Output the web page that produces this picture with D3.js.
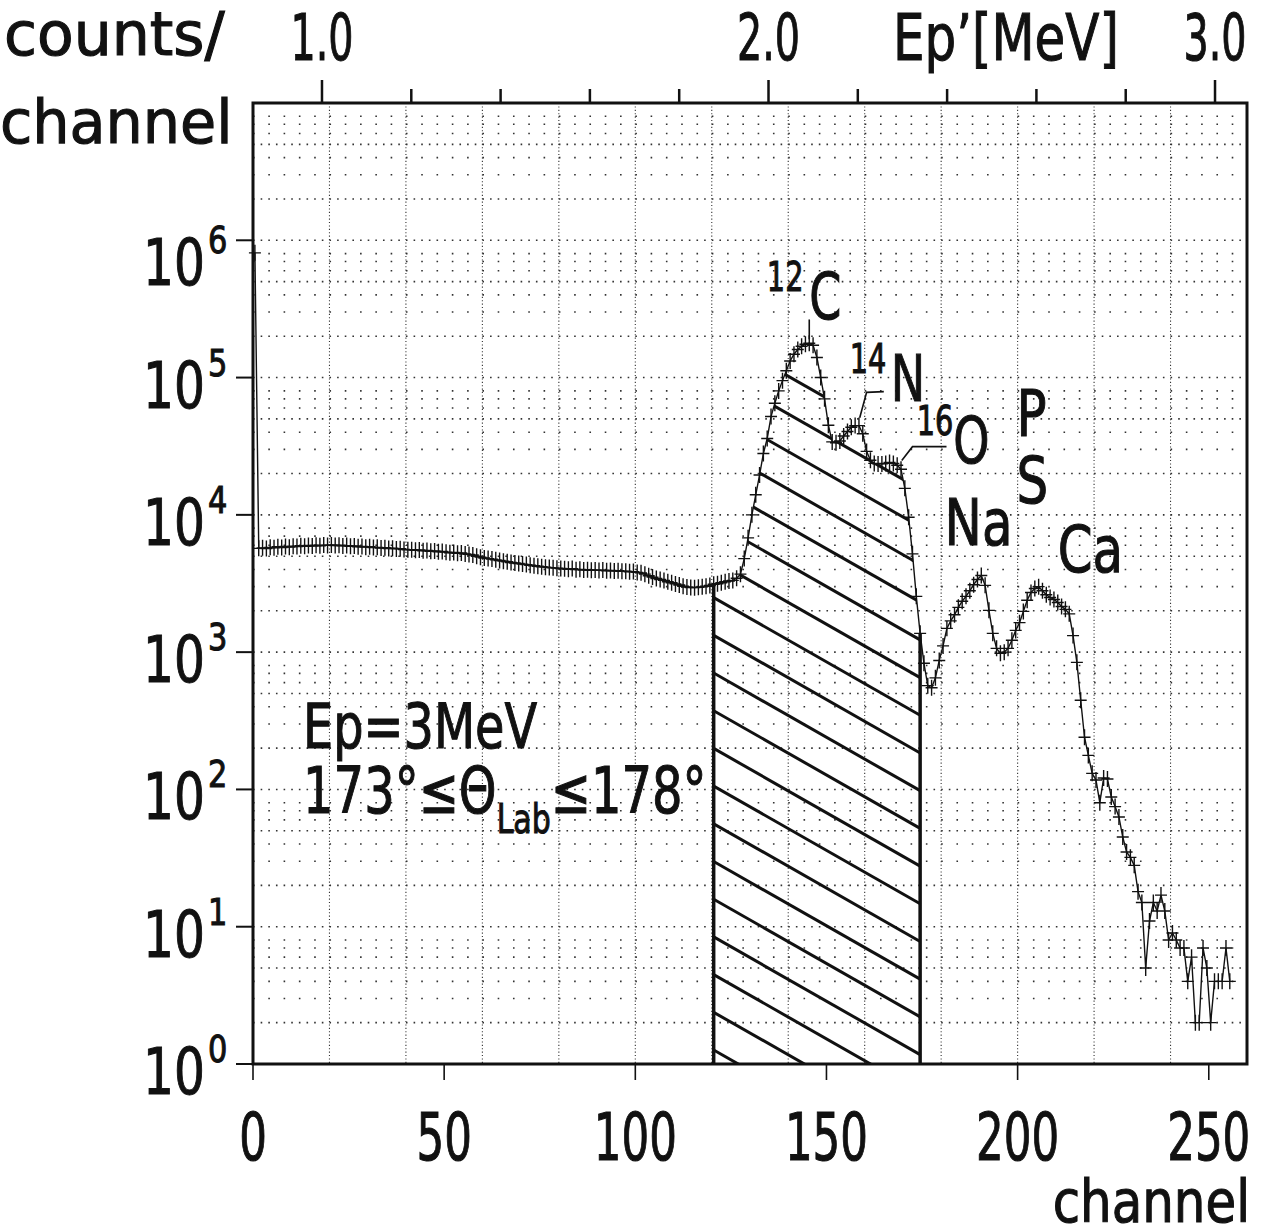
<!DOCTYPE html>
<html>
<head>
<meta charset="utf-8">
<script src="https://cdn.jsdelivr.net/npm/d3@7"></script>
<style>
  body { margin: 0; background: #fff; }
  svg text { font-family: "DejaVu Sans", sans-serif; fill: #111; stroke: #111; stroke-width: 1.1; }
</style>
</head>
<body>
<svg id="chart" width="1267" height="1232"></svg>
<script>
// counts per channel (channel 0 .. 255)
const spikeCounts = [810000];
const flatCounts = [
  5700, 5750, 5680, 5800, 5760, 5850, 5790, 5880, 5820, 5900,
  5870, 5950, 5900, 5980, 5930, 6000, 5960, 6020, 5990, 6030,
  5980, 6010, 5940, 5970, 5900, 5930, 5860, 5880, 5820, 5850,
  5780, 5800, 5740, 5760, 5690, 5720, 5650, 5670, 5600, 5560,
  5580, 5520, 5540, 5480, 5500, 5430, 5450, 5390, 5410, 5350,
  5300, 5320, 5250, 5270, 5190, 5150, 5100, 5000, 4920, 4850,
  4800, 4760, 4700, 4650, 4600, 4560, 4500, 4460, 4420, 4380,
  4340, 4300, 4260, 4220, 4190, 4160, 4130, 4110, 4090, 4070,
  4050, 4020, 4060, 3990, 4010, 3960, 3980, 3950, 3970, 3940,
  3960, 3920, 3940, 3900, 3920, 3880, 3890, 3850, 3860, 3810,
  3780, 3700, 3600, 3520, 3440, 3380, 3330, 3260, 3200, 3140,
  3080, 3020, 2980, 2960, 2950, 2970, 2990, 3020, 3060
];
const cnoCounts = [
  3120, 3150, 3200, 3260, 3300, 3330, 3450, 3700, 4800, 6800,
  10000, 14000, 19500, 28000, 36000, 52000, 65000, 80000, 95000, 112000,
  132000, 148000, 160000, 169000, 175000, 178000, 172000, 140000, 100000, 70000,
  45000, 34000, 33500, 34500, 37500, 40500, 43500, 44700, 44700, 39000,
  29000, 25000, 23700, 23500, 23500, 23700, 24100, 23700, 23000, 21500,
  15600, 9600, 5200, 2550, 1370, 830, 570, 550, 650, 870,
  1110
];
const naCaCounts = [
  1490, 1690, 1870, 2120, 2350, 2550, 2800, 3100, 3380, 3620,
  3065, 2015, 1370, 1066, 980, 1000, 1066, 1220, 1440, 1640,
  1980, 2390, 2720, 2910, 3000, 2800, 2620, 2500, 2420, 2300,
  2150, 2050, 1900, 1320, 843, 446, 240, 177
];
const tailCounts = [
  131, 117, 80, 121, 119, 88, 75, 63, 45, 35,
  32, 28, 18, 15, 5, 11, 15, 13, 17, 13,
  8, 9, 8, 7, 7, 4, 6, 2, 2, 7,
  5, 2, 4, 4, 4, 7, 4
];
const spectrum = [].concat(spikeCounts, flatCounts, cnoCounts, naCaCounts, tailCounts);

// hatched sum window (channels)
const sumWindow = [120, 174];

// axes
const channelTicks = [0, 50, 100, 150, 200, 250];
const decadeTicks = [1, 10, 100, 1000, 10000, 100000, 1000000];
const energyMinorTicks = [1.0, 1.2, 1.4, 1.6, 1.8, 2.0, 2.2, 2.4, 2.6, 2.8, 3.0];
const energyLabelTicks = [1.0, 2.0, 3.0];
// Ep' = e0 + slope * channel
const e0 = 0.8455, eSlope = 0.008562;

const svg = d3.select("#chart");
const x = d3.scaleLinear().domain([0, 260]).range([253, 1247]);
const y = d3.scaleLog().domain([1, 1e7]).range([1064, 103]);
const ep = d3.scaleLinear().domain([e0, e0 + eSlope * 260]).range([253, 1247]);

// narrow lettering: text squeezed horizontally
function txt(px, py, size, sx, anchor) {
  return svg.append("g")
    .attr("transform", `translate(${px},${py}) scale(${sx},1)`)
    .append("text").attr("font-size", size).attr("text-anchor", anchor || "start");
}

// ---- dotted grid
const grid = svg.append("g");
d3.range(20, 260, 20).forEach(c => {
  grid.append("line")
    .attr("x1", x(c)).attr("x2", x(c))
    .attr("y1", y(1e7)).attr("y2", y(1))
    .attr("stroke", "#333").attr("stroke-width", 1.1)
    .attr("stroke-dasharray", "1.1,2.3");
});
for (let d = 0; d < 7; d++) {
  [1, 2, 3, 4, 5, 6, 7, 8].forEach(k => {
    const v = k * Math.pow(10, d);
    if (v === 1) return;
    const dense = (k === 1 || k === 2 || k === 5);
    const step = x(dense ? 2 : 4) - x(0);
    grid.append("line")
      .attr("x1", x(0)).attr("x2", x(260))
      .attr("y1", y(v)).attr("y2", y(v))
      .attr("stroke", "#333").attr("stroke-width", 1.6)
      .attr("stroke-dasharray", "1.6," + (step - 1.6));
  });
}

// ---- hatched window
const win = d3.range(sumWindow[0], sumWindow[1] + 1).map(c => [x(c + 0.5), y(spectrum[c])]);
const xL = win[0][0], xR = win[win.length - 1][0];
const poly = [[xL, y(1)]].concat(win, [[xR, y(1)]]);
svg.append("clipPath").attr("id", "hclip")
  .append("path").attr("d", d3.line()(poly) + "Z");
const hatch = svg.append("g").attr("clip-path", "url(#hclip)");
const hSlope = 0.57, hGap = 37.7, hBase = y(1) - 14;
for (let k = -2; k < 20; k++) {
  const y0 = hBase - k * hGap;
  hatch.append("line")
    .attr("x1", xL).attr("y1", y0)
    .attr("x2", xR).attr("y2", y0 + hSlope * (xR - xL))
    .attr("stroke", "#111").attr("stroke-width", 3);
}
[win[0], win[win.length - 1]].forEach(p => {
  svg.append("line")
    .attr("x1", p[0]).attr("x2", p[0])
    .attr("y1", y(1)).attr("y2", p[1])
    .attr("stroke", "#111").attr("stroke-width", 3.5);
});

// ---- frame
svg.append("rect")
  .attr("x", x(0)).attr("y", y(1e7))
  .attr("width", x(260) - x(0)).attr("height", y(1) - y(1e7))
  .attr("fill", "none").attr("stroke", "#111").attr("stroke-width", 3);

// ---- spectrum line and crosses
const pts = spectrum.map((v, i) => [x(i + 0.5), y(v)]);
svg.append("path")
  .attr("d", d3.line()(pts))
  .attr("fill", "none").attr("stroke", "#111").attr("stroke-width", 1.4);
svg.append("path")
  .attr("d", pts.map(p => `M${p[0] - 6},${p[1]}h12M${p[0]},${p[1] - 8}v16`).join(""))
  .attr("fill", "none").attr("stroke", "#111").attr("stroke-width", 1.4);

// ---- bottom axis
channelTicks.forEach(c => {
  svg.append("line").attr("x1", x(c)).attr("x2", x(c))
    .attr("y1", y(1)).attr("y2", y(1) + 16)
    .attr("stroke", "#111").attr("stroke-width", 1.6);
  txt(x(c), 1160, 66, 0.66, "middle").text(c);
});
txt(1250, 1222, 58, 0.86, "end").text("channel");

// ---- left axis
decadeTicks.forEach(v => {
  const yy = y(v), d = Math.round(Math.log10(v));
  const base = yy + (d === 6 ? 45 : 30);
  svg.append("line").attr("x1", x(0) - 17).attr("x2", x(0))
    .attr("y1", yy).attr("y2", yy)
    .attr("stroke", "#111").attr("stroke-width", 2);
  txt(205, base, 64, 0.76, "end").text("10");
  txt(208, base - 32, 38, 0.8).text(d);
});
txt(4, 55, 60, 1.0).text("counts/");
txt(0, 143, 60, 0.98).text("channel");

// ---- top energy axis
energyMinorTicks.forEach(e => {
  const major = energyLabelTicks.some(m => Math.abs(m - e) < 1e-6);
  svg.append("line").attr("x1", ep(e)).attr("x2", ep(e))
    .attr("y1", y(1e7)).attr("y2", y(1e7) - (major ? 23 : 14))
    .attr("stroke", "#111").attr("stroke-width", 2.5);
});
energyLabelTicks.forEach(e => {
  txt(ep(e), 60, 64, 0.62, "middle").text(e.toFixed(1));
});
txt(893, 60, 64, 0.78).text("Ep\u2019[MeV]");

// ---- peak labels
function isoLabel(c, v, mass, sym, gap) {
  const t = txt(x(c), y(v), 64, 0.72);
  t.append("tspan").attr("font-size", 40).attr("dy", -28).text(mass);
  t.append("tspan").attr("dx", gap).attr("dy", 28).text(sym);
}
isoLabel(134.4, 269000, "12", "C", 8);
isoLabel(156.1, 68000, "14", "N", 6);
isoLabel(173.6, 23700, "16", "O", 0);
[["P", 199.7, 37800], ["S", 199.7, 12100], ["Na", 180.9, 5990], ["Ca", 210.5, 3810]].forEach(l => {
  txt(x(l[1]), y(l[2]), 64, 0.78).text(l[0]);
});

// leader lines
const leaders = [
  [[145.5, 190000], [145.5, 265000]],
  [[158.7, 51000], [160.5, 78000], [165, 79000]],
  [[169.7, 24900], [172.5, 31400], [181.4, 31400]]
];
leaders.forEach(l => {
  svg.append("path").attr("d", d3.line()(l.map(p => [x(p[0]), y(p[1])])))
    .attr("fill", "none").attr("stroke", "#111").attr("stroke-width", 1.6);
});

// ---- run conditions
txt(x(13.1), y(200), 62, 0.77).text("Ep=3MeV");
const cond = txt(x(13.1), y(67), 64, 0.75);
cond.append("tspan").text("173°≤Θ");
cond.append("tspan").attr("font-size", 40).attr("dy", 20).text("Lab");
cond.append("tspan").attr("dy", -20).text("≤178°");
</script>
</body>
</html>
